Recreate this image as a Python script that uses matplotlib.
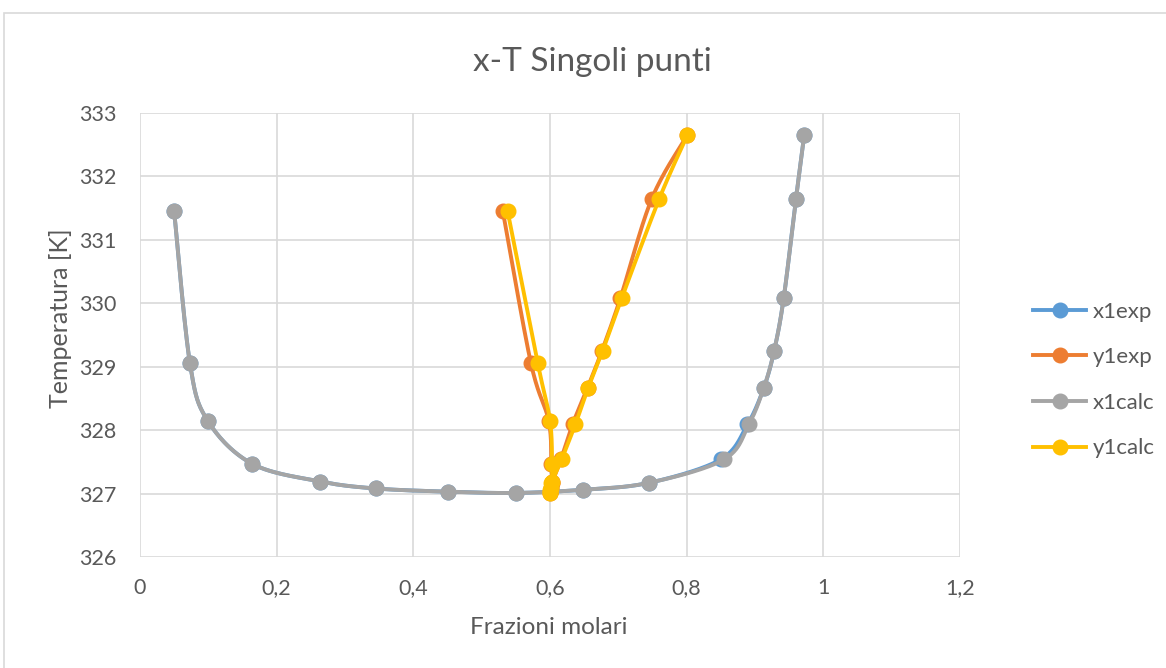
import numpy as np
import matplotlib
matplotlib.use("Agg")
import matplotlib.pyplot as plt
from matplotlib.patches import Rectangle

# ---- data ----
T = [331.45, 329.06, 328.15, 327.47, 327.19, 327.08, 327.03, 327.01, 327.06,
     327.17, 327.54, 328.09, 328.67, 329.25, 330.08, 331.65, 332.65]
x1exp = [0.050, 0.073, 0.099, 0.164, 0.264, 0.345, 0.450, 0.550, 0.648,
         0.745, 0.850, 0.889, 0.913, 0.928, 0.942, 0.960, 0.972]
y1exp = [0.531, 0.572, 0.598, 0.602, 0.603, 0.601, 0.600, 0.600, 0.601,
         0.603, 0.616, 0.633, 0.655, 0.676, 0.703, 0.749, 0.801]
x1calc = [0.050, 0.073, 0.099, 0.164, 0.264, 0.345, 0.450, 0.550, 0.648,
          0.745, 0.855, 0.891, 0.913, 0.928, 0.942, 0.960, 0.972]
y1calc = [0.538, 0.582, 0.600, 0.603, 0.603, 0.601, 0.600, 0.600, 0.600,
          0.602, 0.617, 0.637, 0.656, 0.677, 0.705, 0.760, 0.801]
series_names = ["x1exp", "y1exp", "x1calc", "y1calc"]
series_colors = ["#5B9BD5", "#ED7D31", "#A5A5A5", "#FFC000"]
xticks = [0, 0.2, 0.4, 0.6, 0.8, 1.0, 1.2]
xtick_labels = ["0", "0,2", "0,4", "0,6", "0,8", "1", "1,2"]
yticks = [326, 327, 328, 329, 330, 331, 332, 333]

plt.rcParams['font.family'] = ['Lato', 'DejaVu Sans']
txt = "#595959"

fig = plt.figure(figsize=(11.66, 6.68), dpi=100)
fig.patches.append(Rectangle((4/1166, -0.1), 1.2, 1 - 13/668 + 0.1,
                             transform=fig.transFigure, fill=False,
                             edgecolor="#d9d9d9", linewidth=1.2))
ax = fig.add_axes([140/1166, 1 - 557/668, 820/1166, 444/668])
ax.set_xlim(0, 1.2)
ax.set_ylim(326, 333)
ax.set_xticks(xticks)
ax.set_xticklabels(xtick_labels)
ax.set_yticks(yticks)
ax.grid(True, color="#d9d9d9", linewidth=1.2)
ax.set_axisbelow(True)
for s in ax.spines.values():
    s.set_visible(False)
ax.tick_params(length=0, labelsize=15.5, colors=txt)
ax.tick_params(axis="y", pad=17)
ax.tick_params(axis="x", pad=15)


def smooth(ax, xs, ys, n=30):
    pts = ax.transData.transform(np.column_stack([xs, ys]))
    out = []
    N = len(pts)
    for i in range(N - 1):
        p0 = pts[i - 1] if i > 0 else pts[i]
        p1 = pts[i]
        p2 = pts[i + 1]
        p3 = pts[i + 2] if i + 2 < N else pts[i + 1]
        c1 = p1 + (p2 - p0) / 6.0
        c2 = p2 - (p3 - p1) / 6.0
        t = np.linspace(0, 1, n)[:, None]
        seg = ((1 - t) ** 3) * p1 + 3 * ((1 - t) ** 2) * t * c1 + 3 * (1 - t) * t ** 2 * c2 + t ** 3 * p2
        out.append(seg if i == 0 else seg[1:])
    out = np.vstack(out)
    d = ax.transData.inverted().transform(out)
    return d[:, 0], d[:, 1]


data = [x1exp, y1exp, x1calc, y1calc]
for xs, name, col in zip(data, series_names, series_colors):
    sx, sy = smooth(ax, xs, T)
    ax.plot(sx, sy, color=col, linewidth=2.8, solid_capstyle="round")
    ax.plot(xs, T, linestyle="none", marker="o", markersize=10.5, color=col)
    ax.plot([], [], color=col, linewidth=2.8, marker="o", markersize=10.5, label=name)

fig.text(592/1166, 1 - 62/668, "x-T Singoli punti", fontsize=24, color=txt,
         ha="center", va="center")
fig.text(549/1166, 1 - 627/668, "Frazioni molari", fontsize=17.5, color=txt,
         ha="center", va="center")
fig.text(61/1166, 1 - 318/668, "Temperatura [K]", fontsize=18, color=txt,
         ha="center", va="center", rotation=90)

leg = ax.legend(loc="center left", bbox_to_anchor=(1.089, (557 - 380) / 444),
                frameon=False, borderpad=0, borderaxespad=0,
                fontsize=16, labelspacing=1.15, handlelength=2.4,
                handletextpad=0.28, labelcolor=txt)

fig.savefig("out.png", dpi=100)
